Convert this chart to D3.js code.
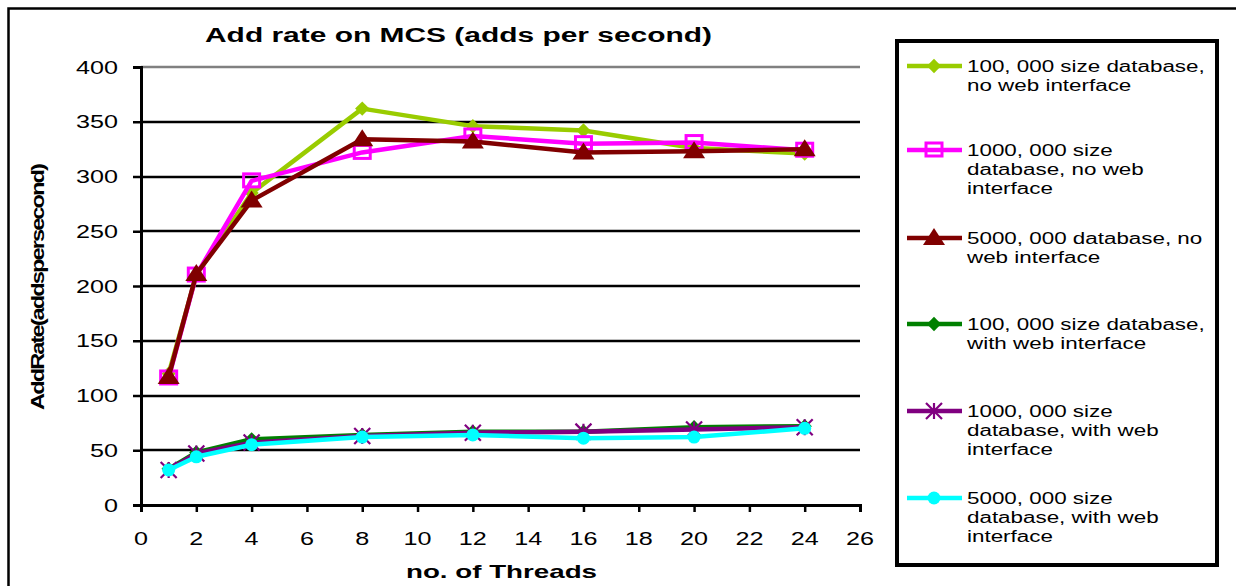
<!DOCTYPE html>
<html lang="en">
<head>
<meta charset="UTF-8">
<title>Add rate on MCS</title>
<script src="https://d3js.org/d3.v7.min.js"></script>
<style>
    body { margin: 0; padding: 0; background: #fff; }
    svg { display: block; font-family: "Liberation Sans", Arial, sans-serif; }
</style>
</head>
<body>
<div id="chart"></div>
<script>
    // data
    const threads = [1, 2, 4, 8, 12, 16, 20, 24];
    const s100kNoWeb = [120, 210, 285, 362, 346, 342, 326, 321];
    const s1mNoWeb = [116, 210, 296, 322, 337, 330, 331, 324];
    const s5mNoWeb = [117, 211, 278, 334, 332, 322, 323, 325];
    const s100kWeb = [33, 48, 60, 64, 67, 67, 71, 72];
    const s1mWeb = [32, 47, 57, 63, 66, 67, 69, 71];
    const s5mWeb = [32, 44, 55, 62, 64, 61, 62, 70];
    const xTicks = [0, 2, 4, 6, 8, 10, 12, 14, 16, 18, 20, 22, 24, 26];
    const yTicks = [0, 50, 100, 150, 200, 250, 300, 350, 400];

    const series = [
        { values: s100kNoWeb, color: "#99CC00", marker: "diamond", label: ["100, 000 size database,", "no web interface"] },
        { values: s1mNoWeb, color: "#FF00FF", marker: "square", label: ["1000, 000 size", "database, no web", "interface"] },
        { values: s5mNoWeb, color: "#800000", marker: "triangle", label: ["5000, 000 database, no", "web interface"] },
        { values: s100kWeb, color: "#008000", marker: "diamond", label: ["100, 000 size database,", "with web interface"] },
        { values: s1mWeb, color: "#800080", marker: "star", label: ["1000, 000 size", "database, with web", "interface"] },
        { values: s5mWeb, color: "#00FFFF", marker: "circle", label: ["5000, 000 size", "database, with web", "interface"] }
    ];

    const width = 1236, height = 586;
    const plot = { left: 141, right: 860, top: 67, bottom: 505 };
    const sx = 1.4; // text in the picture is stretched sideways

    const svg = d3.select("#chart").append("svg")
        .attr("width", width)
        .attr("height", height);

    // outer chart border (bottom runs off the picture)
    svg.append("rect")
        .attr("x", 8.5).attr("y", 8.5)
        .attr("width", 1240).attr("height", 600)
        .attr("fill", "none").attr("stroke", "#000").attr("stroke-width", 2.5);

    const x = d3.scaleLinear().domain([0, 26]).range([plot.left, plot.right]);
    const y = d3.scaleLinear().domain([0, 400]).range([plot.bottom, plot.top]);

    // stretched text helper
    function label(g, txt, px, py, anchor, size, weight) {
        return g.append("text")
            .attr("transform", `translate(${px},${py}) scale(${sx},1)`)
            .attr("text-anchor", anchor)
            .attr("font-size", size)
            .attr("font-weight", weight || "normal")
            .attr("fill", "#000")
            .text(txt);
    }

    // gridlines
    svg.append("g").selectAll("line")
        .data(yTicks.filter(d => d > 0))
        .join("line")
        .attr("x1", plot.left).attr("x2", plot.right)
        .attr("y1", d => Math.round(y(d))).attr("y2", d => Math.round(y(d)))
        .attr("stroke", d => d === 400 ? "#808080" : "#000")
        .attr("stroke-width", 2.5);

    // axes
    const yAxis = svg.append("g")
        .attr("transform", `translate(${plot.left},0)`)
        .call(d3.axisLeft(y).tickValues(yTicks).tickSize(8).tickFormat(""));
    const xAxis = svg.append("g")
        .attr("transform", `translate(0,${plot.bottom})`)
        .call(d3.axisBottom(x).tickValues(xTicks).tickSize(7).tickFormat(""));
    [yAxis, xAxis].forEach(a => {
        a.select(".domain").attr("stroke", "#000").attr("stroke-width", 3);
        a.selectAll(".tick line").attr("stroke", "#000").attr("stroke-width", 2.5);
    });

    const tickG = svg.append("g");
    yTicks.forEach(t => label(tickG, t, 118, y(t) + 6.5, "end", 18));
    xTicks.forEach(t => label(tickG, t, x(t), 545, "middle", 18));

    // titles
    svg.append("text")
        .attr("x", 205).attr("y", 42)
        .attr("font-size", 19.5).attr("font-weight", "bold")
        .attr("textLength", 507).attr("lengthAdjust", "spacingAndGlyphs")
        .text("Add rate on MCS (adds per second)");
    svg.append("text")
        .attr("x", 406).attr("y", 578)
        .attr("font-size", 18.5).attr("font-weight", "bold")
        .attr("textLength", 191).attr("lengthAdjust", "spacingAndGlyphs")
        .text("no. of Threads");
    svg.append("text")
        .attr("transform", "translate(44,410) rotate(-90)")
        .attr("font-size", 18).attr("font-weight", "bold")
        .attr("letter-spacing", -1.5)
        .attr("textLength", 245).attr("lengthAdjust", "spacingAndGlyphs")
        .text("AddRate(addspersecond)");

    // markers
    function drawMarker(g, type, color, cx, cy) {
        if (type === "diamond") {
            g.append("path").attr("d", d3.symbol(d3.symbolDiamond2, 130)())
                .attr("transform", `translate(${cx},${cy})`).attr("fill", color);
        } else if (type === "square") {
            g.append("rect").attr("x", cx - 8).attr("y", cy - 7)
                .attr("width", 16).attr("height", 13)
                .attr("fill", "none").attr("stroke", color).attr("stroke-width", 3);
        } else if (type === "triangle") {
            g.append("path").attr("d", `M${cx},${cy - 10}L${cx + 11},${cy + 7}L${cx - 11},${cy + 7}Z`)
                .attr("fill", color);
        } else if (type === "star") {
            const r = 8;
            g.append("path")
                .attr("d", `M${cx - r},${cy - r}L${cx + r},${cy + r}M${cx + r},${cy - r}L${cx - r},${cy + r}M${cx},${cy - r}L${cx},${cy + r}`)
                .attr("stroke", color).attr("stroke-width", 2.2).attr("fill", "none");
        } else if (type === "circle") {
            g.append("circle").attr("cx", cx).attr("cy", cy).attr("r", 6.5).attr("fill", color);
        }
    }

    // lines; lower group first so upper group order matches
    const lineGen = d3.line().x((d, i) => x(threads[i])).y(d => y(d));
    const drawOrder = [3, 4, 5, 0, 1, 2];
    drawOrder.forEach(k => {
        const s = series[k];
        const g = svg.append("g");
        g.append("path")
            .datum(s.values)
            .attr("d", lineGen)
            .attr("fill", "none")
            .attr("stroke", s.color)
            .attr("stroke-width", 4.5)
            .attr("stroke-linejoin", "round");
        s.values.forEach((v, i) => drawMarker(g, s.marker, s.color, x(threads[i]), y(v)));
    });

    // legend
    const legendTop = [66, 150, 238, 324, 411, 498];
    const leg = svg.append("g");
    leg.append("rect")
        .attr("x", 897).attr("y", 41)
        .attr("width", 320).attr("height", 524)
        .attr("fill", "#fff").attr("stroke", "#000").attr("stroke-width", 4);
    series.forEach((s, k) => {
        const ly = legendTop[k];
        leg.append("line")
            .attr("x1", 907).attr("x2", 962)
            .attr("y1", ly).attr("y2", ly)
            .attr("stroke", s.color).attr("stroke-width", 4.5);
        drawMarker(leg, s.marker, s.color, 934, ly);
        s.label.forEach((t, j) => label(leg, t, 967, ly + 6 + j * 19, "start", 16));
    });
</script>
</body>
</html>
